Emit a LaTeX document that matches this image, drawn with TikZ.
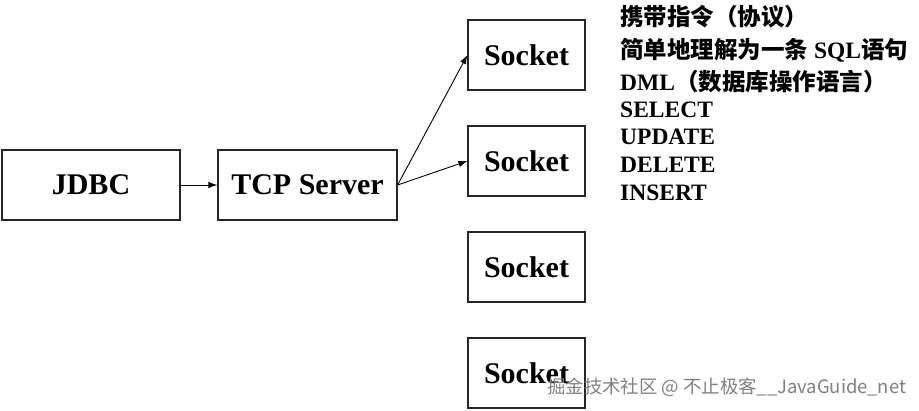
\documentclass[tikz,border=0pt]{standalone}
\usepackage{fontspec}
\setmainfont{Liberation Serif}
\newfontfamily\cjk{Noto Sans CJK SC}
\usetikzlibrary{arrows.meta}
\tikzset{
  box/.style={draw=black!85, line width=1.2pt, minimum height=70pt, font=\fontsize{30}{30}\selectfont\bfseries, inner sep=0pt},
  arr/.style={line width=0.9pt, -{Latex[length=9pt,width=6.5pt]}},
  txt/.style={anchor=base west, inner sep=0pt, font=\fontsize{23.5}{23.5}\selectfont\bfseries},
  wm/.style={anchor=base west, inner sep=0pt, text=black!50, font=\cjk\fontsize{18.4}{18.4}\selectfont}
}
\begin{document}
\begin{tikzpicture}[x=1pt,y=-1pt]
\useasboundingbox (0,0) rectangle (919,410);
\node[box, minimum width=178pt] (jdbc) at (91,185) {JDBC};
\node[box, minimum width=179pt] (tcp) at (307.5,185) {TCP Server};
\node[box, minimum width=117pt] (s1) at (526.5,55) {Socket};
\node[box, minimum width=117pt] (s2) at (526.5,161) {Socket};
\node[box, minimum width=117pt] (s3) at (526.5,267) {Socket};
\node[box, minimum width=117pt] (s4) at (526.5,373) {Socket};
\draw[arr] (jdbc.east) -- (tcp.west);
\draw[arr] (tcp.east) -- (s1.west);
\draw[arr] (tcp.east) -- (s2.west);
\node[txt] (t1) at (620,25) {{\cjk\bfseries 携带指令（协议）}};
\node[txt] (t2) at (620,58) {{\cjk\bfseries 简单地理解为一条} SQL{\cjk\bfseries 语句}};
\node[txt] (t3) at (620,90) {DML{\cjk\bfseries （数据库操作语言）}};
\node[txt] (t4) at (620,117) {SELECT};
\node[txt] (t5) at (620,144) {UPDATE};
\node[txt] (t6) at (620,172) {DELETE};
\node[txt] (t7) at (620,200) {INSERT};
\node[wm] (w) at (547,393) {掘金技术社区 @ 不止极客\_\_JavaGuide\_net};
\end{tikzpicture}
\end{document}
